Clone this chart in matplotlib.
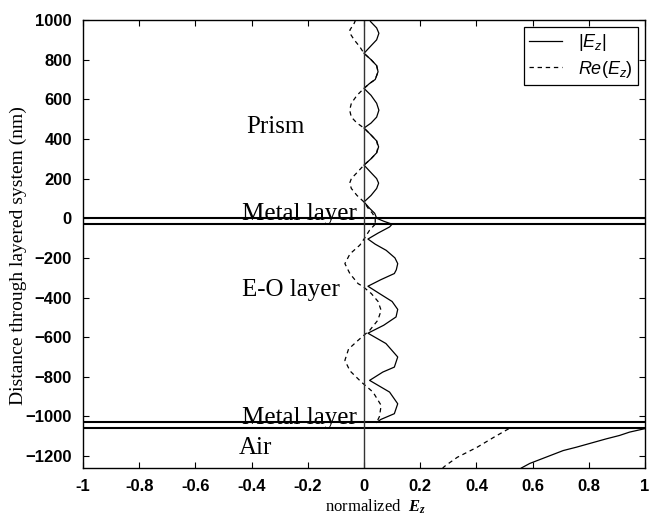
import numpy as np
import matplotlib
matplotlib.use("Agg")
import matplotlib.pyplot as plt

plt.rcParams['mathtext.fontset'] = 'custom'
plt.rcParams['mathtext.it'] = 'Liberation Sans:italic'
plt.rcParams['mathtext.rm'] = 'Liberation Sans'
plt.rcParams['mathtext.bf'] = 'Liberation Serif:italic:bold'

# ---- data ----
# prism + top metal + E-O layer, |Ez| (solid)
z_abs_top = [1000, 991, 960, 933, 900, 870, 832, 800, 770, 739, 700, 680, 655,
             620, 580, 545, 510, 480, 455, 420, 390, 360, 330, 300, 268,
             230, 200, 177, 150, 115, 82, 50, 25, 0, -15, -30]
v_abs_top = [0.02, 0.024, 0.045, 0.053, 0.045, 0.025, 0.0, 0.025, 0.045, 0.05, 0.04, 0.02, 0.0,
             0.025, 0.045, 0.053, 0.045, 0.025, 0.0, 0.025, 0.045, 0.052, 0.045, 0.025, 0.0,
             0.025, 0.045, 0.052, 0.045, 0.025, 0.0, 0.02, 0.038, 0.045, 0.07, 0.10]
z_abs_eo = [-30, -44, -75, -105, -131, -162, -200, -229, -260, -279, -310, -343,
            -380, -420, -460, -498, -540, -580, -632, -700, -751, -776, -818,
            -877, -936, -986, -1015, -1030]
v_abs_eo = [0.10, 0.091, 0.05, 0.014, 0.04, 0.079, 0.11, 0.12, 0.115, 0.108, 0.06, 0.014,
            0.055, 0.10, 0.12, 0.114, 0.07, 0.014, 0.078, 0.12, 0.108, 0.067, 0.02,
            0.091, 0.12, 0.108, 0.06, 0.045]
# Re(Ez) (dashed)
z_re_top = [1000, 983, 950, 933, 900, 865, 832, 800, 770, 739, 700, 680, 655,
            620, 580, 545, 510, 480, 455, 420, 390, 360, 330, 300, 268,
            230, 200, 177, 150, 115, 82, 50, 25, 0, -30]
v_re_top = [-0.03, -0.035, -0.05, -0.05, -0.035, -0.015, 0.0, 0.025, 0.045, 0.05, 0.04, 0.02, 0.0,
            -0.025, -0.045, -0.051, -0.045, -0.025, 0.0, 0.025, 0.045, 0.05, 0.045, 0.025, 0.0,
            -0.025, -0.045, -0.051, -0.045, -0.025, 0.0, 0.015, 0.03, 0.04, 0.04]
z_re_eo = [-30, -60, -105, -136, -180, -229, -280, -330, -343, -380, -420, -465,
           -515, -566, -590, -616, -660, -717, -770, -827, -850, -877, -944, -1000, -1030]
v_re_eo = [0.04, 0.02, 0.0, -0.015, -0.05, -0.068, -0.05, -0.021, -0.005, 0.026, 0.05, 0.061,
           0.049, 0.02, 0.0, -0.021, -0.055, -0.068, -0.05, -0.009, 0.01, 0.032, 0.061, 0.055, 0.045]
# air region
z_abs_air = [-1062, -1079, -1096, -1113, -1155, -1172, -1237, -1260]
v_abs_air = [0.998, 0.945, 0.909, 0.862, 0.756, 0.709, 0.59, 0.56]
z_re_air = [-1062, -1105, -1155, -1206, -1247, -1260]
v_re_air = [0.515, 0.462, 0.403, 0.332, 0.291, 0.28]

interfaces = [0, -30, -1030, -1060]
region_labels = ["Prism", "Metal layer", "E-O layer", "Metal layer", "Air"]
region_z = [460, 22, -364, -1008, -1157]
region_x = [-0.42, -0.435, -0.435, -0.435, -0.447]

xticks = [-1, -0.8, -0.6, -0.4, -0.2, 0, 0.2, 0.4, 0.6, 0.8, 1]
xticklabels = ["-1", "-0.8", "-0.6", "-0.4", "-0.2", "0", "0.2", "0.4", "0.6", "0.8", "1"]
yticks = [1000, 800, 600, 400, 200, 0, -200, -400, -600, -800, -1000, -1200]

# ---- figure ----
fig = plt.figure(figsize=(6.52, 5.16), dpi=100)
ax = fig.add_axes([83/652, 48/516, 562/652, 448/516])

solid_kw = dict(color='black', lw=0.9)
dash_kw = dict(color='black', lw=0.9, dashes=(3.5, 3))

l1, = ax.plot(v_abs_top, z_abs_top, **solid_kw, label=r'$|E_z|$')
ax.plot(v_abs_eo, z_abs_eo, **solid_kw)
ax.plot(v_abs_air, z_abs_air, **solid_kw)
l2, = ax.plot(v_re_top, z_re_top, **dash_kw, label=r'$Re(E_z)$')
ax.plot(v_re_eo, z_re_eo, **dash_kw)
ax.plot(v_re_air, z_re_air, **dash_kw)

for zi in interfaces:
    ax.axhline(zi, color='black', lw=1.5)
ax.axvline(0, color='#333333', lw=1.0)

for lab, xx, zz in zip(region_labels, region_x, region_z):
    ax.text(xx, zz, lab, family='Liberation Serif', fontsize=18, ha='left', va='center')

ax.set_xlim(-1, 1)
ax.set_ylim(-1260, 1000)
ax.set_xticks(xticks)
ax.set_xticklabels(xticklabels)
ax.set_yticks(yticks)
for lbl in ax.get_xticklabels() + ax.get_yticklabels():
    lbl.set_family('Liberation Sans')
    lbl.set_fontweight('bold')
    lbl.set_fontsize(12)
ax.tick_params(axis='x', direction='in', top=True, length=4, width=0.8, pad=8)
ax.tick_params(axis='y', direction='in', right=True, length=4, width=0.8, pad=8)
for s in ax.spines.values():
    s.set_linewidth(1.0)

ax.set_xlabel(r'normalized  $\mathbf{E_z}$', family='Liberation Serif', fontsize=12)
ax.set_ylabel('Distance through layered system (nm)', family='Liberation Serif', fontsize=14)
ax.xaxis.set_label_coords(0.52, -0.066)
ax.yaxis.set_label_coords(-0.100, 0.475)

leg = ax.legend(handles=[l1, l2], loc='upper right', bbox_to_anchor=(0.988, 0.985),
                borderaxespad=0, fancybox=False, framealpha=1, edgecolor='black',
                fontsize=13, handlelength=1.8, handletextpad=0.9, borderpad=0.3,
                labelspacing=0.3)
leg.get_frame().set_linewidth(0.9)

fig.savefig('out.png', dpi=100)
